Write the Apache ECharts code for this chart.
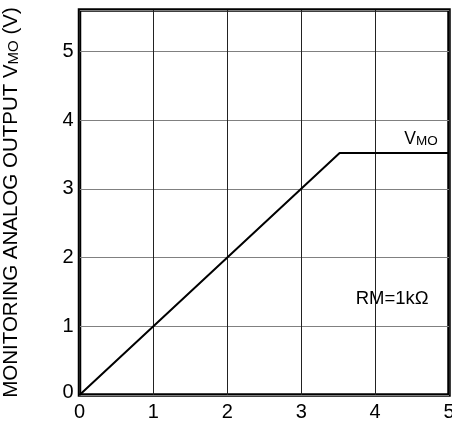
<!DOCTYPE html>
<html><head><meta charset="utf-8">
<script src="https://cdn.jsdelivr.net/npm/echarts@6/dist/echarts.min.js"></script>
<style>html,body{margin:0;padding:0;background:#fff}#c{width:452px;height:424px}</style>
</head><body><div id="c"></div>
<script>
const xTicks = [0, 1, 2, 3, 4, 5];
const yTicks = [0, 1, 2, 3, 4, 5];
const vmoX = [0, 3.52, 5];
const vmoY = [0, 3.52, 3.52];
const labelVmo = [4.62, 3.72];
const labelRm = [4.23, 1.4];

const chart = echarts.init(document.getElementById('c'), null, {renderer: 'canvas'});
const FONT = 'Liberation Sans, Arial, sans-serif';
chart.setOption({
  animation: false,
  grid: {left: 79.5, right: 3, top: 10, bottom: 29, show: true, borderColor: '#000', borderWidth: 3.5, backgroundColor: 'transparent', containLabel: false, outerBoundsMode: 'none'},
  xAxis: {
    type: 'value', min: 0, max: 5, interval: 1,
    axisLine: {show: false}, axisTick: {show: false},
    splitLine: {show: true, lineStyle: {color: '#222', width: 1}},
    axisLabel: {color: '#000', fontSize: 20, fontFamily: FONT, margin: 7, showMaxLabel: true, hideOverlap: false,
      formatter: v => xTicks.includes(v) ? String(v) : ''}
  },
  yAxis: {
    type: 'value', min: 0, max: 5.6, interval: 1,
    name: '{a|MONITORING ANALOG OUTPUT V}{b|MO}{a| (V)}',
    nameLocation: 'middle', nameRotate: 90, nameGap: 58,
    nameTextStyle: {rich: {a: {fontSize: 20.5, fontFamily: FONT, color: '#000'}, b: {fontSize: 15, fontFamily: FONT, color: '#000', verticalAlign: 'bottom'}}},
    axisLine: {show: false}, axisTick: {show: false},
    splitLine: {show: true, lineStyle: {color: '#808080', width: 1}},
    axisLabel: {color: '#000', fontSize: 20, fontFamily: FONT, margin: 6, showMaxLabel: false,
      formatter: v => yTicks.includes(v) ? (v === 0 ? '{z|0}' : String(v)) : '',
      rich: {z: {fontSize: 20, fontFamily: FONT, color: '#000', padding: [0, 0, 6, 0]}}}
  },
  series: [{
    type: 'line', data: vmoX.map((x, i) => [x, vmoY[i]]),
    symbol: 'none', lineStyle: {color: '#000', width: 2}, z: 5,
    markPoint: {
      symbol: 'circle', symbolSize: 0,
      data: [
        {coord: labelVmo, label: {show: true, formatter: '{v|V}{m|MO}', rich: {v: {fontSize: 17.5, fontFamily: FONT, color: '#000'}, m: {fontSize: 13.5, fontFamily: FONT, color: '#000', verticalAlign: 'bottom'}}}},
        {coord: labelRm, label: {show: true, formatter: 'RM=1kΩ', fontSize: 18.5, fontFamily: FONT, color: '#000'}}
      ]
    }
  }]
});
</script></body></html>
